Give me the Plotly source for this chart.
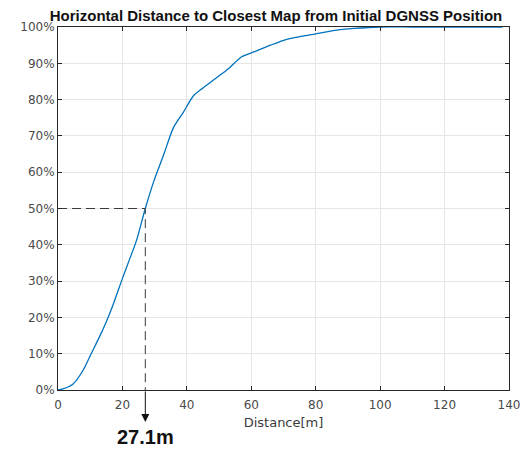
import plotly.graph_objects as go

# ---- data ----
distance_m = [0, 1.5, 4.6, 7.7, 10.3, 12.8, 14.9, 17.1, 19.7, 22, 24.3, 27.1, 29.7, 32.8,
              35.8, 38.9, 42, 45, 49, 53, 57, 61, 66, 71, 76, 80, 86, 92, 100,
              110, 125, 138]
cdf_pct = [0, 0.3, 1.6, 5.3, 10, 14.5, 18.6, 23.5, 30, 35.5, 41, 50, 57.4, 64.8,
           72.2, 76.5, 81, 83.2, 85.9, 88.6, 91.8, 93.2, 95, 96.6, 97.5, 98.1, 99.1, 99.6, 100,
           100, 100, 100]
median_m = 27.1
median_pct = 50
median_label = "27.1m"
x_ticks = [0, 20, 40, 60, 80, 100, 120, 140]
y_ticks = [0, 10, 20, 30, 40, 50, 60, 70, 80, 90, 100]
y_ticklabels = [f"{v}%" for v in y_ticks]

AX = "#262626"
GRID = "#e6e6e6"
TICKFONT = dict(family="DejaVu Sans", size=12, color="#4a4a4a")

# The page adds an 8px body margin, so the figure is 8px smaller each way.
W, H = 524, 442

fig = go.Figure()

fig.add_trace(go.Scatter(
    x=distance_m, y=cdf_pct, mode="lines",
    line=dict(color="#0072BD", width=1.3, shape="spline", smoothing=0.7),
    hoverinfo="skip", showlegend=False,
))

# dashed guide lines to the median
fig.add_trace(go.Scatter(
    x=[0, median_m, median_m], y=[median_pct, median_pct, 0], mode="lines",
    line=dict(color="#3a3a3a", width=1, dash="9px,5px"),
    hoverinfo="skip", showlegend=False,
))

# solid arrow below the axis + label
fig.add_annotation(x=median_m, y=-0.088, xref="x", yref="paper",
                   ax=0, ay=-32, showarrow=True, arrowhead=2,
                   arrowsize=1.6, arrowwidth=1, arrowcolor="#111111", text="")
fig.add_annotation(x=median_m, y=-0.129, xref="x", yref="paper",
                   text="<b>" + median_label + "</b>", showarrow=False,
                   font=dict(family="Liberation Sans, Arial", size=20, color="#111111"),
                   xanchor="center", yanchor="middle")

fig.update_layout(
    width=W, height=H,
    margin=dict(l=46, r=20, t=17, b=60),
    paper_bgcolor="white", plot_bgcolor="white",
    title=dict(text="<b>Horizontal Distance to Closest Map from Initial DGNSS Position</b>",
               x=268 / W, xref="container", xanchor="center",
               y=1 - 2 / H, yref="container", yanchor="top", pad=dict(t=0, b=0),
               font=dict(family="Liberation Sans, Arial", size=15, color="#111111")),
    xaxis=dict(range=[0, 140], tickvals=x_ticks, showgrid=True, gridcolor=GRID,
               gridwidth=1, zeroline=False, showline=True, linecolor=AX, linewidth=1,
               mirror="ticks", ticks="inside", ticklen=4, tickcolor=AX,
               tickfont=TICKFONT, ticklabelstandoff=4,
               title=dict(text="Distance[m]", standoff=6,
                          font=dict(family="DejaVu Sans", size=13, color="#3a3a3a"))),
    yaxis=dict(range=[0, 100], tickvals=y_ticks, ticktext=y_ticklabels, showgrid=True,
               gridcolor=GRID, gridwidth=1, zeroline=False, showline=True,
               linecolor=AX, linewidth=1, mirror="ticks", ticks="inside",
               ticklen=4, tickcolor=AX, tickfont=TICKFONT),
)

fig.write_html("out.html")
